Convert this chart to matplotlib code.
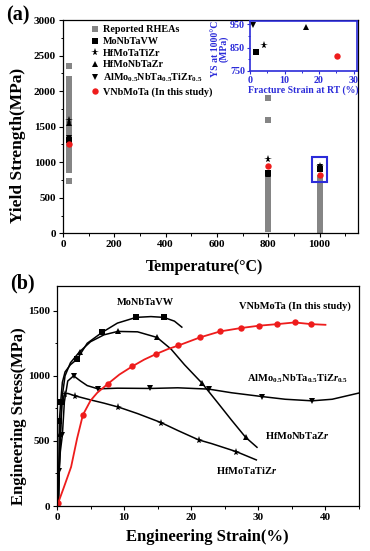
import matplotlib
matplotlib.use("Agg")
import matplotlib.pyplot as plt
from matplotlib.patches import Rectangle
from matplotlib.ticker import MultipleLocator

plt.rcParams['font.family'] = ['Liberation Serif', 'DejaVu Serif']
plt.rcParams['font.weight'] = 'bold'
plt.rcParams['mathtext.fontset'] = 'custom'
plt.rcParams['mathtext.rm'] = 'Liberation Serif:bold'
plt.rcParams['mathtext.it'] = 'Liberation Serif:italic:bold'
plt.rcParams['mathtext.bf'] = 'Liberation Serif:bold'
plt.rcParams['mathtext.default'] = 'rm'
plt.rcParams['axes.linewidth'] = 0.9

RED = '#ee1c1c'
BLUE = '#2b2bd9'
GRAY = '#858585'

# ---------------- panel (a) data ----------------
rt = 25
rhea_25 = [2350, 2170, 2120, 2070, 2020, 1960, 1880, 1830, 1780, 1730, 1680, 1630,
           1580, 1530, 1480, 1430, 1380, 1330, 1280, 1230, 1180, 1130, 1080, 1030,
           980, 930, 890, 740]
rhea_800 = [1900, 1600, 820, 780, 740, 700, 660, 620, 580, 540, 500, 460, 420,
            380, 340, 300, 260, 220, 180, 140, 100, 60]
rhea_1000 = [780, 740, 700, 660, 620, 580, 540, 500, 460, 420, 380, 340, 300,
             260, 220, 180, 140, 100, 60, 30]
temps = [25, 800, 1000]
ys_monbtavw = [1310, 850, 900]
ys_hfmotatizr = [1600, 1050, 945]
ys_hfmonbtazr = [1545, 830, 920]
ys_almo_temps = [25, 1000]
ys_almo = [1335, 935]
ys_vnbmota = [1260, 950, 820]

# inset data: fracture strain at RT vs YS at 1000 C
in_strain = {'MoNbTaVW': 1.6, 'HfMoTaTiZr': 4.0, 'HfMoNbTaZr': 16.3, 'AlMo': 0.9, 'VNbMoTa': 25.3}
in_ys = {'MoNbTaVW': 832, 'HfMoTaTiZr': 861, 'HfMoNbTaZr': 939, 'AlMo': 945, 'VNbMoTa': 815}

# ---------------- panel (b) data ----------------
mo_x = [0.2, 0.35, 0.55, 0.8, 1.2, 2.0, 3.0, 4.5, 6.7, 9.0, 11.8, 14.0, 15.9, 17.5, 18.6]
mo_y = [0, 650, 802, 950, 1030, 1085, 1128, 1250, 1333, 1405, 1449, 1455, 1449, 1420, 1374]
mo_mk = [1, 2, 6, 8, 10, 12]

hfnb_x = [0.2, 0.5, 0.8, 1.2, 2.0, 3.37, 5.0, 7.0, 9.05, 12.0, 14.9, 17.0, 19.0, 21.6, 24.0, 26.0, 28.1, 29.8]
hfnb_y = [0, 550, 850, 1000, 1100, 1185, 1262, 1315, 1341, 1338, 1295, 1205, 1085, 944, 790, 660, 528, 451]
hfnb_mk = [1, 5, 8, 10, 13, 16]

al_x = [0.2, 0.3, 0.5, 0.8, 1.1, 1.6, 2.48, 3.5, 4.5, 6.1, 9.0, 13.9, 18.0, 22.6, 26.0, 30.5, 34.0, 38.0, 41.0, 45.0]
al_y = [0, 270, 420, 545, 800, 960, 1000, 960, 925, 900, 905, 903, 908, 898, 870, 841, 820, 808, 820, 868]
al_mk = [1, 3, 6, 9, 11, 13, 15, 17]

hfti_x = [0.15, 0.4, 0.7, 1.14, 1.6, 2.7, 5.0, 7.0, 9.15, 12.0, 15.5, 18.0, 21.1, 23.0, 26.7, 29.7]
hfti_y = [0, 400, 780, 861, 865, 846, 815, 790, 760, 710, 641, 580, 508, 480, 418, 354]
hfti_mk = [3, 5, 8, 10, 12, 14]

v_x = [0.15, 1.0, 2.1, 3.0, 3.86, 5.0, 6.0, 7.57, 9.3, 11.2, 13.0, 14.75, 16.5, 18.1, 21.3, 24.3, 27.4, 30.1, 32.8, 35.4, 37.9, 40.0]
v_y = [20, 140, 300, 520, 700, 810, 870, 938, 1010, 1072, 1125, 1167, 1205, 1233, 1295, 1341, 1367, 1385, 1397, 1410, 1397, 1392]
v_mk = [0, 4, 7, 9, 11, 13, 14, 15, 16, 17, 18, 19, 20]

fig = plt.figure(figsize=(3.70, 5.51), dpi=100)

# ================= panel (a) =================
axa = fig.add_axes([63/370, 1-233.3/551, 295/370, 213.3/551])
sq = 4.1
axa.plot([rt]*len(rhea_25), rhea_25, 's', color=GRAY, ms=sq, mew=0, label='Reported RHEAs')
axa.plot([800]*len(rhea_800), rhea_800, 's', color=GRAY, ms=sq, mew=0)
axa.plot([1000]*len(rhea_1000), rhea_1000, 's', color=GRAY, ms=sq, mew=0)
axa.plot(temps, ys_monbtavw, 's', color='black', ms=4.2, mew=0, label='MoNbTaVW')
axa.plot(temps, ys_hfmotatizr, '*', color='black', ms=5.8, mew=0, label='HfMoTaTiZr')
axa.plot(temps, ys_hfmonbtazr, '^', color='black', ms=4.6, mew=0, label='HfMoNbTaZr')
axa.plot(ys_almo_temps, ys_almo, 'v', color='black', ms=4.6, mew=0,
         label=r'AlMo$_{0.5}$NbTa$_{0.5}$TiZr$_{0.5}$')
axa.plot(temps, ys_vnbmota, 'o', color=RED, ms=4.6, mew=0, label='VNbMoTa (In this study)')
axa.add_patch(Rectangle((970, 720), 60, 350, fill=False, edgecolor=BLUE, lw=1.5, zorder=5))

axa.set_xlim(0, 1150)
axa.set_ylim(0, 3000)
axa.xaxis.set_minor_locator(MultipleLocator(100))
axa.yaxis.set_major_locator(MultipleLocator(500))
axa.yaxis.set_minor_locator(MultipleLocator(250))
axa.set_xticks([0, 200, 400, 600, 800, 1000])
axa.tick_params(which='major', direction='out', length=3, width=0.8, labelsize=8, pad=2)
axa.tick_params(which='minor', direction='out', length=1.8, width=0.7)
axa.set_xlabel('Temperature(°C)', fontsize=11.5, fontweight='bold')
axa.set_ylabel('Yield Strength(MPa)', fontsize=12.5, fontweight='bold')
axa.xaxis.set_label_coords(0.478, -0.12)
axa.yaxis.set_label_coords(-0.125, 0.41)

leg = axa.legend(loc='upper left', bbox_to_anchor=(0.092, 0.975), frameon=False,
                 fontsize=7.3, handlelength=0.9, handletextpad=0.35, labelspacing=0.25,
                 borderpad=0, borderaxespad=0, numpoints=1)

fig.text(18/370, 1-15.5/551, '(a)', fontsize=14.5, fontweight='bold', ha='center', va='center')

# inset
axi = fig.add_axes([250/370, 1-71/551, 107/370, 50/551])
axi.plot(in_strain['MoNbTaVW'], in_ys['MoNbTaVW'], 's', color='black', ms=4.2, mew=0)
axi.plot(in_strain['HfMoTaTiZr'], in_ys['HfMoTaTiZr'], '*', color='black', ms=5.8, mew=0)
axi.plot(in_strain['HfMoNbTaZr'], in_ys['HfMoNbTaZr'], '^', color='black', ms=4.6, mew=0)
axi.plot(in_strain['AlMo'], in_ys['AlMo'], 'v', color='black', ms=4.6, mew=0)
axi.plot(in_strain['VNbMoTa'], in_ys['VNbMoTa'], 'o', color=RED, ms=4.6, mew=0)
axi.set_xlim(0, 31)
axi.set_ylim(750, 963)
axi.xaxis.set_major_locator(MultipleLocator(10))
axi.xaxis.set_minor_locator(MultipleLocator(5))
axi.set_yticks([750, 850, 950])
axi.yaxis.set_minor_locator(MultipleLocator(50))
for s in axi.spines.values():
    s.set_edgecolor(BLUE)
    s.set_linewidth(1.2)
axi.tick_params(which='major', direction='out', length=2.5, width=0.8, colors=BLUE,
                labelsize=7.2, pad=1)
axi.tick_params(which='minor', direction='out', length=1.5, width=0.7, colors=BLUE)
axi.set_xlabel('Fracture Strain at RT (%)', fontsize=7, fontweight='bold', color=BLUE)
axi.set_ylabel('YS at 1000°C\n(MPa)', fontsize=7, fontweight='bold', color=BLUE, linespacing=0.85)
axi.xaxis.set_label_coords(0.5, -0.28)
axi.yaxis.set_label_coords(-0.2, 0.45)

# ================= panel (b) =================
axb = fig.add_axes([57/370, 1-506/551, 302/370, 220/551])
lw = 1.1
ms = 4.3
axb.plot(mo_x, mo_y, '-', color='black', lw=lw)
axb.plot([mo_x[i] for i in mo_mk], [mo_y[i] for i in mo_mk], 's', color='black', ms=ms, mew=0)
axb.plot(hfnb_x, hfnb_y, '-', color='black', lw=lw)
axb.plot([hfnb_x[i] for i in hfnb_mk], [hfnb_y[i] for i in hfnb_mk], '^', color='black', ms=ms+0.5, mew=0)
axb.plot(al_x, al_y, '-', color='black', lw=lw)
axb.plot([al_x[i] for i in al_mk], [al_y[i] for i in al_mk], 'v', color='black', ms=ms+0.5, mew=0)
axb.plot(hfti_x, hfti_y, '-', color='black', lw=lw)
axb.plot([hfti_x[i] for i in hfti_mk], [hfti_y[i] for i in hfti_mk], '*', color='black', ms=ms+1.5, mew=0)
axb.plot(v_x, v_y, '-', color=RED, lw=1.3)
axb.plot([v_x[i] for i in v_mk], [v_y[i] for i in v_mk], 'o', color=RED, ms=ms+0.3, mew=0)

axb.set_xlim(0, 45)
axb.set_ylim(0, 1690)
axb.xaxis.set_major_locator(MultipleLocator(10))
axb.xaxis.set_minor_locator(MultipleLocator(5))
axb.yaxis.set_major_locator(MultipleLocator(500))
axb.yaxis.set_minor_locator(MultipleLocator(250))
axb.tick_params(which='major', direction='out', length=3, width=0.8, labelsize=8, pad=2)
axb.tick_params(which='minor', direction='out', length=1.8, width=0.7)
axb.set_xlabel('Engineering Strain(%)', fontsize=12, fontweight='bold')
axb.set_ylabel('Engineering Stress(MPa)', fontsize=12, fontweight='bold')
axb.xaxis.set_label_coords(0.498, -0.105)
axb.yaxis.set_label_coords(-0.1, 0.41)

tfs = 7.5
axb.text(13.2, 1560, 'MoNbTaVW', fontsize=tfs, fontweight='bold', ha='center', va='center')
axb.text(35.5, 1533, 'VNbMoTa (In this study)', fontsize=tfs, fontweight='bold', ha='center', va='center')
axb.text(35.9, 977, r'AlMo$_{0.5}$NbTa$_{0.5}$TiZ$\mathit{r}_{0.5}$', fontsize=tfs, fontweight='bold',
         ha='center', va='center')
axb.text(35.9, 541, r'HfMoNbTaZ$\mathit{r}$', fontsize=tfs, fontweight='bold', ha='center', va='center')
axb.text(28.2, 272, r'HfMoTaTiZ$\mathit{r}$', fontsize=tfs, fontweight='bold', ha='center', va='center')

fig.text(22/370, 1-283.5/551, '(b)', fontsize=14.5, fontweight='bold', ha='center', va='center')

fig.savefig('out.png', dpi=100)
